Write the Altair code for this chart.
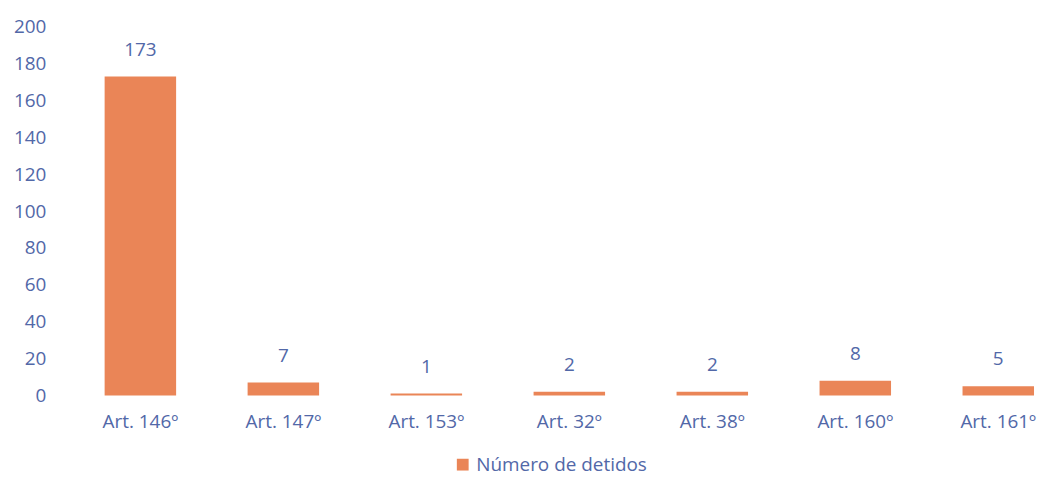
import altair as alt
import pandas as pd

categories = ["Art. 146º", "Art. 147º", "Art. 153º", "Art. 32º", "Art. 38º", "Art. 160º", "Art. 161º"]
values = [173, 7, 1, 2, 2, 8, 5]
series = "Número de detidos"

df = pd.DataFrame({"cat": categories, "val": values, "serie": [series] * len(values)})

FONT = "Open Sans"
TXT = "#5268a8"
BAR = "#EA8557"
FS = 19

base = alt.Chart(df).encode(
    x=alt.X("cat:N", sort=categories, title=None,
            scale=alt.Scale(paddingInner=0.5, paddingOuter=0.0),
            axis=alt.Axis(labelAngle=0, labelFontSize=FS, labelColor=TXT, labelFont=FONT,
                          ticks=False, domain=False, labelPadding=17, grid=False)),
    y=alt.Y("val:Q", title=None,
            scale=alt.Scale(domain=[0, 200]),
            axis=alt.Axis(values=list(range(0, 201, 20)), labelFontSize=FS,
                          labelColor=TXT, labelFont=FONT, ticks=False, domain=False, grid=False,
                          labelOverlap=False, labelPadding=59)),
)

bars = base.mark_bar().encode(
    color=alt.Color("serie:N", scale=alt.Scale(range=[BAR]),
                    legend=alt.Legend(title=None, orient="none", legendX=350, legendY=430,
                                      symbolType="square", symbolSize=140, labelFontSize=FS,
                                      labelLimit=400,
                                      labelColor=TXT, labelFont=FONT, symbolStrokeWidth=0)),
)

labels = base.mark_text(baseline="bottom", dy=-17, fontSize=FS, color=TXT, font=FONT).encode(
    text=alt.Text("val:Q"),
)

chart = (bars + labels).properties(
    width=933, height=370,
    background="white",
    autosize=alt.AutoSizeParams(type="none"),
    padding={"left": 97, "top": 18, "right": 5, "bottom": 85},
).configure_view(stroke=None)

chart.save("out.html", embed_options={"renderer": "svg", "actions": False})
